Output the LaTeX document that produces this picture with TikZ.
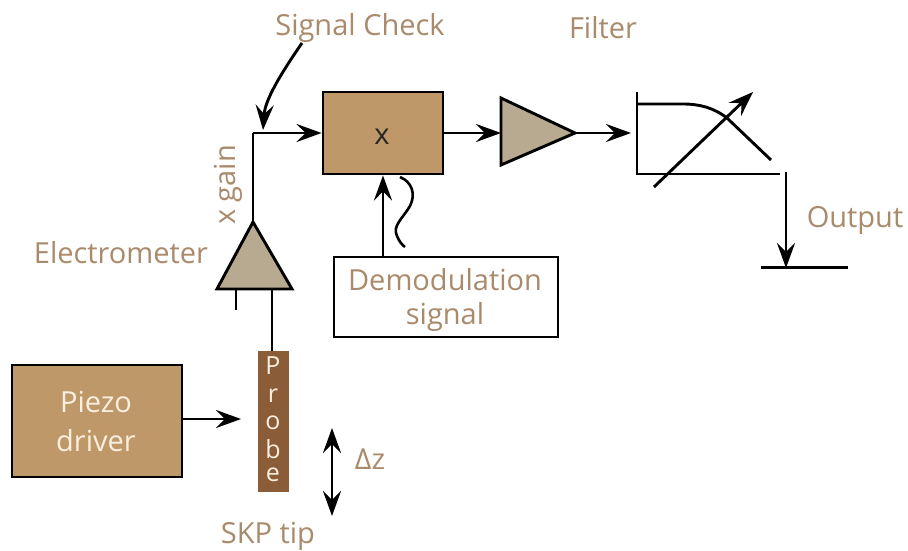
\documentclass[tikz,border=0pt]{standalone}
\usepackage{fontspec}
\setmainfont{Open Sans}
\usetikzlibrary{arrows.meta}
\definecolor{lbl}{HTML}{A98A6B}
\definecolor{tan}{HTML}{BF9869}
\definecolor{amp}{HTML}{B8AA91}
\definecolor{probe}{HTML}{8A5C38}
\definecolor{cream}{HTML}{FAEFDF}
\tikzset{
  tipa/.tip={Stealth[length=25pt,width=18pt,inset=9pt]},
  wire/.style={line width=2.9pt,draw=black},
  arr/.style={wire,-tipa},
  txt/.style={text=lbl,font=\fontsize{29}{29}\selectfont,inner sep=0pt},
  tanbox/.style={draw=black,line width=2.9pt,fill=tan,inner sep=0pt},
  whitebox/.style={draw=black,line width=2.9pt,fill=white,inner sep=0pt},
  ampl/.style={draw=black,line width=2.9pt,fill=amp,line join=miter},
  ptxt/.style={text=cream,font=\fontsize{29}{29}\selectfont,inner sep=0pt},
  probetxt/.style={text=cream,font=\fontsize{25}{25}\selectfont,inner sep=0pt},
}
\begin{document}
\begin{tikzpicture}[x=1pt,y=-1pt]
\useasboundingbox (0,0) rectangle (908,551);
\fill[white] (0,0) rectangle (908,551);
% nodes
\node[tanbox,minimum width=120pt,minimum height=82pt] (mult) at (383,133) {};
\node[font=\fontsize{29}{29}\selectfont,text=black!85,inner sep=0pt] (multx) at (382,137) {x};
\node[whitebox,minimum width=224pt,minimum height=80pt] (demod) at (446,297) {};
\node[txt] (d1) at (445,280) {Demodulation};
\node[txt] (d2) at (445,317) {signal};
\node[tanbox,minimum width=170pt,minimum height=112pt] (piezo) at (97,421) {};
\node[ptxt] (p1) at (96,402) {Piezo};
\node[ptxt] (p2) at (96,441) {driver};
\node[fill=probe,minimum width=31pt,minimum height=141pt,inner sep=0pt] (probe) at (273.5,421.5) {};
\foreach \n/\c/\y in {a/P/366,b/r/396,c/o/423,d/b/449,e/e/475}
  \node[probetxt] (pl\n) at (273,\y) {\c};
% amplifiers
\coordinate (ea) at (253,222);
\coordinate (el) at (217,289);
\coordinate (er) at (292,289);
\coordinate (fa) at (575,133);
\coordinate (ft) at (501,98);
\coordinate (fb) at (501,165);
\draw[ampl] (ea) -- (el) -- (er) -- cycle;
\draw[ampl] (fa) -- (ft) -- (fb) -- cycle;
% connectors
\coordinate (corner) at (253,133);
\coordinate (tick) at (236,310);
\coordinate (tickt) at (236,289);
\coordinate (pin) at (272,289);
\coordinate (sc) at (302,43);
\coordinate (sct) at (263,130);
\coordinate (wa) at (400,177);
\coordinate (wb) at (405,247);
\coordinate (fin) at (631,133);
\coordinate (pr) at (241,419);
\coordinate (pl) at (182,419);
\draw[wire] (ea) -- (corner);
\draw[arr] (corner) -- (mult.west);
\draw[arr] (mult.east) -- (ft |- mult.east);
\draw[arr] (fa) -- (fin);
\draw[arr] (demod.north -| mult.south) -- (mult.south);
\draw[wire] (tickt) -- (tick);
\draw[wire] (pin) -- (pin |- probe.north);
\draw[arr] (pl) -- (pr);
\draw[arr] (sc) .. controls (280,75) and (265,100) .. (sct);
\draw[wire,line width=2.6pt] (wa) .. controls (412,182) and (416,194) .. (410,206) .. controls (403,218) and (392,226) .. (397,236) .. controls (399,241) and (402,245) .. (wb);
% filter
\coordinate (ftop) at (637,92);
\coordinate (fcor) at (637,174);
\coordinate (fend) at (780,174);
\coordinate (cs) at (637,104);
\coordinate (cm) at (683,104);
\coordinate (cc) at (727,118);
\coordinate (ce) at (771,160);
\coordinate (as) at (654,187);
\coordinate (ae) at (753,92);
\draw[wire] (ftop) -- (fcor) -- (fend);
\draw[wire] (cs) -- (cm) .. controls (700,104) and (714,108) .. (cc) -- (ce);
\draw[arr] (as) -- (ae);
% output
\coordinate (os) at (786,172);
\coordinate (oe) at (786,268);
\coordinate (bl) at (761,267.5);
\coordinate (br) at (848,267.5);
\draw[arr] (os) -- (oe);
\draw[wire] (bl) -- (br);
% delta z
\coordinate (dzt) at (332,428);
\coordinate (dzb) at (332,516);
\draw[wire,tipa-tipa] (dzt) -- (dzb);
% labels
\node[txt] (lsc) at (360,28) {Signal Check};
\node[txt] (lfi) at (603,28) {Filter};
\node[txt,rotate=90] (lxg) at (228,185) {x gain};
\node[txt] (lel) at (121,253) {Electrometer};
\node[txt] (lou) at (855,220) {Output};
\node[txt] (lsk) at (268,536) {SKP tip};
\node[txt] (ldz) at (370,459) {Δz};
\end{tikzpicture}
\end{document}
